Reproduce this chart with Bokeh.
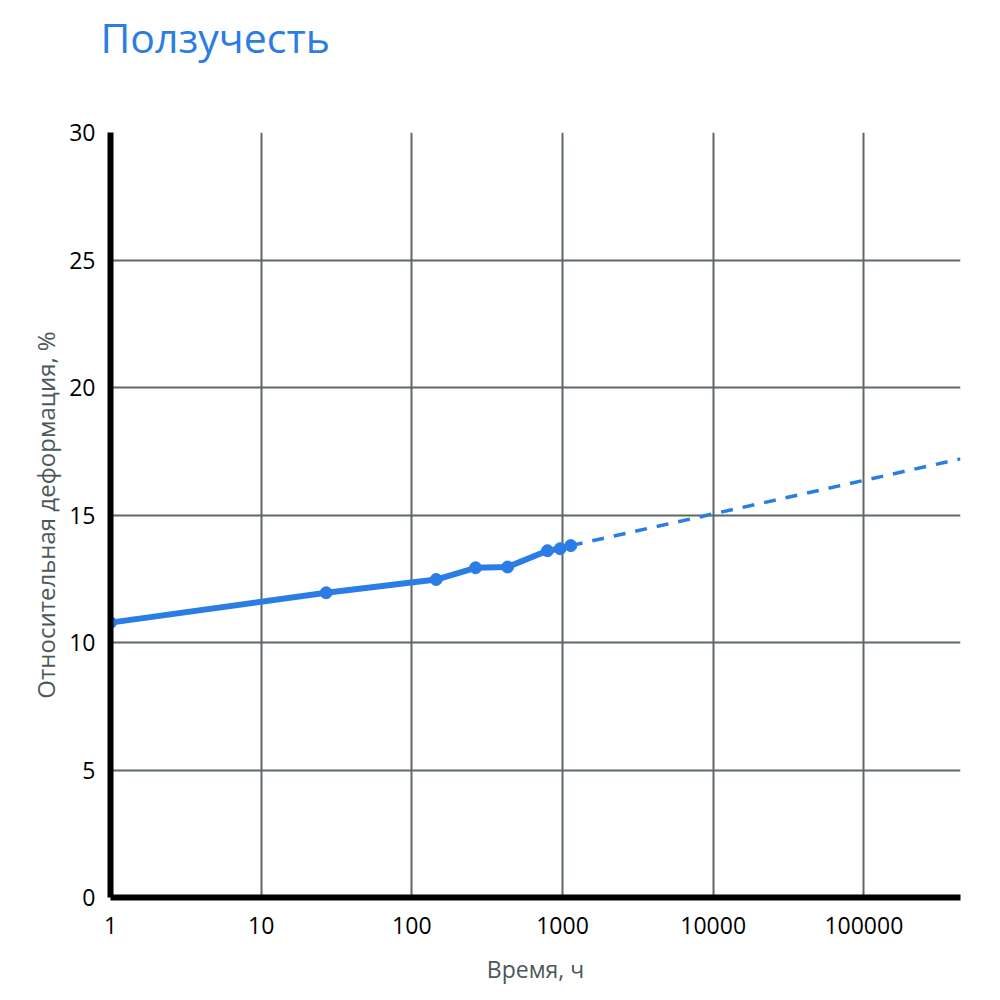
from bokeh.plotting import figure
from bokeh.models import Range1d, FixedTicker, Title
from bokeh.embed import file_html
from bokeh.resources import INLINE

# Data
title_text = "Ползучесть"
x_label = "Время, ч"
y_label = "Относительная деформация, %"

time_h = [1, 27, 145, 265, 432, 795, 965, 1135]
strain = [10.78, 11.95, 12.47, 12.93, 12.96, 13.6, 13.68, 13.8]

extrap_time = [1135, 438000]
extrap_strain = [13.8, 17.2]

x_ticks = [1, 10, 100, 1000, 10000, 100000]
x_tick_labels = ["1", "10", "100", "1000", "10000", "100000"]
y_ticks = [0, 5, 10, 15, 20, 25, 30]

BLUE = "#2b7de6"
GRID = "#5d6967"
LABEL_GREY = "#4b5958"
FONT = "Open Sans"

p = figure(width=1000, height=1000, x_axis_type="log",
           x_range=Range1d(1, 438000), y_range=Range1d(0, 30),
           output_backend="svg", toolbar_location=None,
           min_border_left=110, min_border_right=40,
           min_border_top=132, min_border_bottom=103)
p.outline_line_color = None

p.title.text = title_text
p.title.text_font = FONT
p.title.text_font_size = "41px"
p.title.text_font_style = "normal"
p.title.text_color = BLUE
p.title.align = "left"
p.title.vertical_align = "top"
p.title.offset = -10
p.title.standoff = 14

# blank spacer between the title and the plot frame
p.add_layout(Title(text=" ", text_font_size="10px", standoff=46), "above")

# grid
p.xgrid.ticker = FixedTicker(ticks=x_ticks)
p.ygrid.ticker = FixedTicker(ticks=y_ticks)
for g in (p.xgrid, p.ygrid):
    g.grid_line_color = GRID
    g.grid_line_width = 2
    g.grid_line_alpha = 1.0

# axes
p.xaxis.ticker = FixedTicker(ticks=x_ticks)
p.xaxis.major_label_overrides = {t: l for t, l in zip(x_ticks, x_tick_labels)}
p.yaxis.ticker = FixedTicker(ticks=y_ticks)
for ax in (p.xaxis, p.yaxis):
    ax.axis_line_color = "black"
    ax.axis_line_width = 6
    ax.major_tick_line_color = None
    ax.minor_tick_line_color = None
    ax.major_tick_out = 0
    ax.major_tick_in = 0
    ax.major_label_text_font = FONT
    ax.major_label_text_font_size = "23px"
    ax.major_label_text_color = "black"
    ax.axis_label_text_font = FONT
    ax.axis_label_text_font_style = "normal"
    ax.axis_label_text_color = LABEL_GREY
p.xaxis.axis_label = x_label
p.yaxis.axis_label = y_label
p.xaxis.axis_label_text_font_size = "23px"
p.yaxis.axis_label_text_font_size = "24px"
p.xaxis.major_label_standoff = 19
p.yaxis.major_label_standoff = 15
p.xaxis.axis_label_standoff = 16
p.yaxis.axis_label_standoff = 4

# extrapolation (dashed)
p.line(extrap_time, extrap_strain, line_color=BLUE, line_width=3.5, line_dash="12 10")

# measured data
p.line(time_h, strain, line_color=BLUE, line_width=6, line_join="round", line_cap="round")
p.scatter(time_h, strain, size=12, fill_color=BLUE, line_color=BLUE)

open("out.html", "w").write(file_html(p, INLINE))
